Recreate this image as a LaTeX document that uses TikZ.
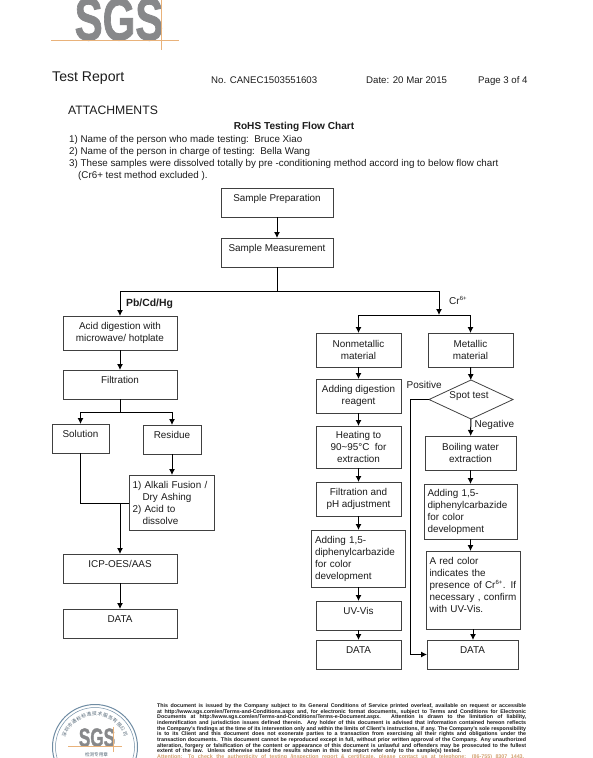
\documentclass[tikz,border=0pt]{standalone}
\usepackage{fontspec}
\setmainfont{Liberation Sans}
\newfontfamily\stampfont{Noto Sans CJK SC}
\newfontfamily\logofont{Liberation Sans}[BoldFeatures={FakeBold=1.5}]
\usetikzlibrary{arrows.meta,calc,positioning,shapes.geometric}
\definecolor{sgsgrey}{HTML}{87888A}
\definecolor{sgsorange}{HTML}{E9B27A}
\definecolor{sgsink}{HTML}{1C1C1C}
\definecolor{stampblue}{HTML}{6F8CA3}
\begin{document}
\begin{tikzpicture}[
    x=1pt, y=-1pt,
    node distance=12pt,
    every node/.style={text=sgsink},
    block/.style={
        rectangle,
        draw=black!75,
        line width=0.8pt,
        fill=white,
        outer sep=0pt,
        inner sep=2pt,
        align=center,
        font=\fontsize{9.9pt}{12pt}\selectfont,
        minimum width=85pt
    },
    wideblock/.style={block, minimum width=114pt},
    topblock/.style={block, minimum height=29pt, text depth=9.5pt},
    twoline/.style={block, minimum height=34pt},
    notes/.style={block, align=left, inner xsep=3.5pt, text width=#1},
    arrow/.style={-{Latex[length=6pt,width=6pt]}, line width=1pt, black},
    trunk/.style={line width=1pt, black},
    plain/.style={inner sep=0pt, anchor=west, text height=8pt, text depth=2pt, font=\fontsize{10pt}{12pt}\selectfont},
    para/.style={plain, font=\fontsize{9.8pt}{12pt}\selectfont},
    headline/.style={plain, font=\fontsize{9.65pt}{12pt}\selectfont},
    small/.style={inner sep=0pt, anchor=west, font=\fontsize{5.35pt}{5.5pt}\bfseries\selectfont}
]
\useasboundingbox (0,0) rectangle (593,758);

% Header
\node[inner sep=0pt, anchor=base, text=sgsgrey, font=\fontsize{60pt}{60pt}\logofont\bfseries, xscale=0.70] (logo) at (119,40) {SGS};
\draw[sgsorange, line width=0.7pt] (51,40.5) -- (179,40.5);
\draw[sgsorange, line width=0.7pt] (161.7,0) -- (161.7,50);
\node[plain, font=\fontsize{14.1pt}{16pt}\selectfont] (report) at (52,78) {Test Report};
\node[headline] (number) at (211,80) {No. CANEC1503551603};
\node[headline] (date) at (366,80) {Date: 20 Mar 2015};
\node[headline] (page) at (478,80) {Page 3 of 4};

\node[plain, font=\fontsize{12.2pt}{14pt}\selectfont] (attach) at (68,111.5) {ATTACHMENTS};
\node[plain, anchor=center, font=\fontsize{10.1pt}{12pt}\bfseries\selectfont] (title) at (294,126) {RoHS Testing Flow Chart};
\node[para] (name) at (69,139.5) {1) Name of the person who made testing:\ \ Bruce Xiao};
\node[para] (charge) at (69,151.5) {2) Name of the person in charge of testing:\ \ Bella Wang};
\node[para] (samples) at (69,163.5) {3) These samples were dissolved totally by pre -conditioning method accord ing to below flow chart};
\node[para] (excluded) at (78,175.5) {(Cr6+ test method excluded ).};

% Top of the chart
\node[topblock, minimum width=112pt, anchor=north] (prep) at (277,188) {Sample Preparation};
\node[topblock, minimum width=112pt, below=21pt of prep] (measure) {Sample Measurement};

% Pb/Cd/Hg column
\node[wideblock, minimum height=34pt, anchor=north] (acid) at (120,316) {Acid digestion with\\microwave/ hotplate};
\node[wideblock, topblock, minimum width=114pt, below=20pt of acid] (filter) {Filtration};
\node[topblock, minimum width=57pt, anchor=north] (solution) at (80.5,424) {Solution};
\node[topblock, minimum width=58pt, anchor=north] (residue) at (172,425) {Residue};
\node[notes=78pt, minimum height=55pt, anchor=north] (alkali) at (171.5,475) {1) Alkali Fusion /\\\hspace*{10pt}Dry Ashing\\2) Acid to\\\hspace*{10pt}dissolve};
\node[wideblock, topblock, minimum width=114pt, anchor=north] (icp) at (120,554) {ICP-OES/AAS};
\node[wideblock, topblock, minimum width=114pt, below=26pt of icp] (dataleft) {DATA};
\coordinate (join) at (120,503);

% Cr column, nonmetallic
\node[twoline, anchor=north] (nonmetal) at (358.5,333) {Nonmetallic\\material};
\node[twoline, below=of nonmetal] (digest) {Adding digestion\\reagent};
\node[block, minimum height=42pt, below=13pt of digest] (heat) {Heating to\\90\textasciitilde95°C\ \ for\\extraction};
\node[twoline, below=14pt of heat] (phadjust) {Filtration and\\pH adjustment};
\node[notes=87pt, minimum height=57pt, below=14pt of phadjust] (colorleft) {Adding 1,5-\\diphenylcarbazide\\for color\\development};
\node[topblock, below=14pt of colorleft] (uvvis) {UV-Vis};
\node[topblock, below=10pt of uvvis] (datamid) {DATA};

% Cr column, metallic
\node[twoline, anchor=north] (metal) at (470.5,333) {Metallic\\material};
\node[diamond, draw=black!75, line width=0.8pt, outer sep=0pt, inner sep=0pt, minimum width=84pt, minimum height=39pt, aspect=2.15, anchor=north] (spot) at (471,380) {};
\node[inner sep=0pt, font=\fontsize{9.9pt}{12pt}\selectfont] (spotlabel) at (469,396.5) {Spot test};
\node[twoline, minimum width=91pt, anchor=north] (boil) at (470.5,436) {Boiling water\\extraction};
\node[notes=86pt, minimum height=55pt, anchor=north] (colorright) at (470.5,484) {Adding 1,5-\\diphenylcarbazide\\for color\\development};
\node[notes=87pt, minimum height=78pt, anchor=north, text depth=59pt] (red) at (473,551) {A red color\\indicates the\\\mbox{presence of Cr\textsuperscript{\fontsize{6pt}{6pt}\selectfont 6+}. If}\\necessary , confirm\\with UV-Vis.};
\node[topblock, minimum width=91pt, anchor=north] (dataright) at (472.5,640) {DATA};

% Free labels
\node[plain, font=\fontsize{10.4pt}{12pt}\bfseries\selectfont] (pblabel) at (126,303.5) {Pb/Cd/Hg};
\node[plain] (crlabel) at (449,301.5) {Cr\textsuperscript{\fontsize{6pt}{6pt}\selectfont 6+}};
\node[plain] (positive) at (406.5,385) {Positive};
\node[plain] (negative) at (474.5,424) {Negative};

% Corner points
\coordinate (topsplit) at (277,291);
\coordinate (crsplit) at (439,315);
\coordinate (filtersplit) at (120,412);

% Connectors
\draw[arrow] (prep) -- (measure);
\draw[trunk] (measure) -- (topsplit);
\draw[arrow] (topsplit) -| (acid);
\draw[arrow] (topsplit) -| (crsplit);
\draw[arrow] (acid) -- (filter);
\draw[trunk] (filter) -- (filtersplit);
\draw[arrow] (filtersplit) -| (solution);
\draw[arrow] (filtersplit) -| (residue);
\draw[arrow] (residue) -- (residue |- alkali.north);
\draw[trunk] (solution) |- (join);
\draw[trunk] (alkali.west |- join) -- (join);
\draw[arrow] (join) -- (icp);
\draw[arrow] (icp) -- (dataleft);
\draw[arrow] (crsplit) -| (nonmetal);
\draw[arrow] (crsplit) -| (metal);
\draw[arrow] (nonmetal) -- (digest);
\draw[arrow] (digest) -- (heat);
\draw[arrow] (heat) -- (phadjust);
\draw[arrow] (phadjust) -- (colorleft);
\draw[arrow] (colorleft) -- (uvvis);
\draw[arrow] (uvvis) -- (datamid);
\draw[arrow] (metal) -- (spot);
\draw[arrow] (spot) -- (boil);
\draw[arrow] (boil) -- (colorright);
\draw[arrow] (colorright) -- (colorright |- red.north);
\draw[arrow] (red) -- (red |- dataright.north);
\draw[arrow] (spot.west) -- ++(-19,0) |- (dataright);

% Footer
\coordinate (stampcentre) at (95,747);
\draw[stampblue, line width=1pt] (stampcentre) circle (42.5);
\draw[stampblue, line width=0.5pt] (stampcentre) circle (39.5);
\foreach \i/\ch in {0/深,1/圳,2/市,3/通,4/标,5/标,6/准,7/技,8/术,9/服,10/务,11/有,12/限,13/公,14/司}{
    \node[inner sep=0pt, text=stampblue!70!black, font=\fontsize{4.8pt}{5pt}\stampfont, rotate={68-9.6*\i}] (ring\i) at ($(stampcentre)+({158-9.6*\i}:33pt)$) {\ch};
}
\node[inner sep=0pt, anchor=base, text=sgsgrey, font=\fontsize{26pt}{26pt}\logofont\bfseries, xscale=0.66] (stamplogo) at (97,746.5) {SGS};
\draw[sgsorange, line width=0.6pt] (68,746.5) -- (122,746.5);
\draw[sgsorange, line width=0.6pt] (113,727) -- (113,752);
\node[inner sep=0pt, text=stampblue!70!black, font=\fontsize{4.6pt}{5pt}\stampfont] (stampnote) at (96.5,755) {检测专用章};
\foreach \i/\txt in {0/{This document is issued by the Company subject to its General Conditions of Service printed overleaf, available on request or accessible},
    1/{at http://www.sgs.com/en/Terms-and-Conditions.aspx and, for electronic format documents, subject to Terms and Conditions for Electronic},
    2/{Documents at http://www.sgs.com/en/Terms-and-Conditions/Terms-e-Document.aspx. Attention is drawn to the limitation of liability,},
    3/{indemnification and jurisdiction issues defined therein. Any holder of this document is advised that information contained hereon reflects},
    4/{the Company's findings at the time of its intervention only and within the limits of Client's instructions, if any. The Company's sole responsibility},
    5/{is to its Client and this document does not exonerate parties to a transaction from exercising all their rights and obligations under the},
    6/{transaction documents. This document cannot be reproduced except in full, without prior written approval of the Company. Any unauthorized},
    7/{alteration, forgery or falsification of the content or appearance of this document is unlawful and offenders may be prosecuted to the fullest}}{
    \node[small] (legal\i) at (157,706.3+5.65*\i) {\makebox[369pt][s]{\txt}};
}
\node[small] (legal8) at (157,751.5) {\makebox[304pt][s]{extent of the law. Unless otherwise stated the results shown in this test report refer only to the sample(s) tested.}};
\node[small, text=sgsorange!90!black] (attention) at (157,757) {\makebox[367pt][s]{Attention: To check the authenticity of testing /inspection report \& certificate, please contact us at telephone: (86-755) 8307 1443,}};

\end{tikzpicture}
\end{document}
